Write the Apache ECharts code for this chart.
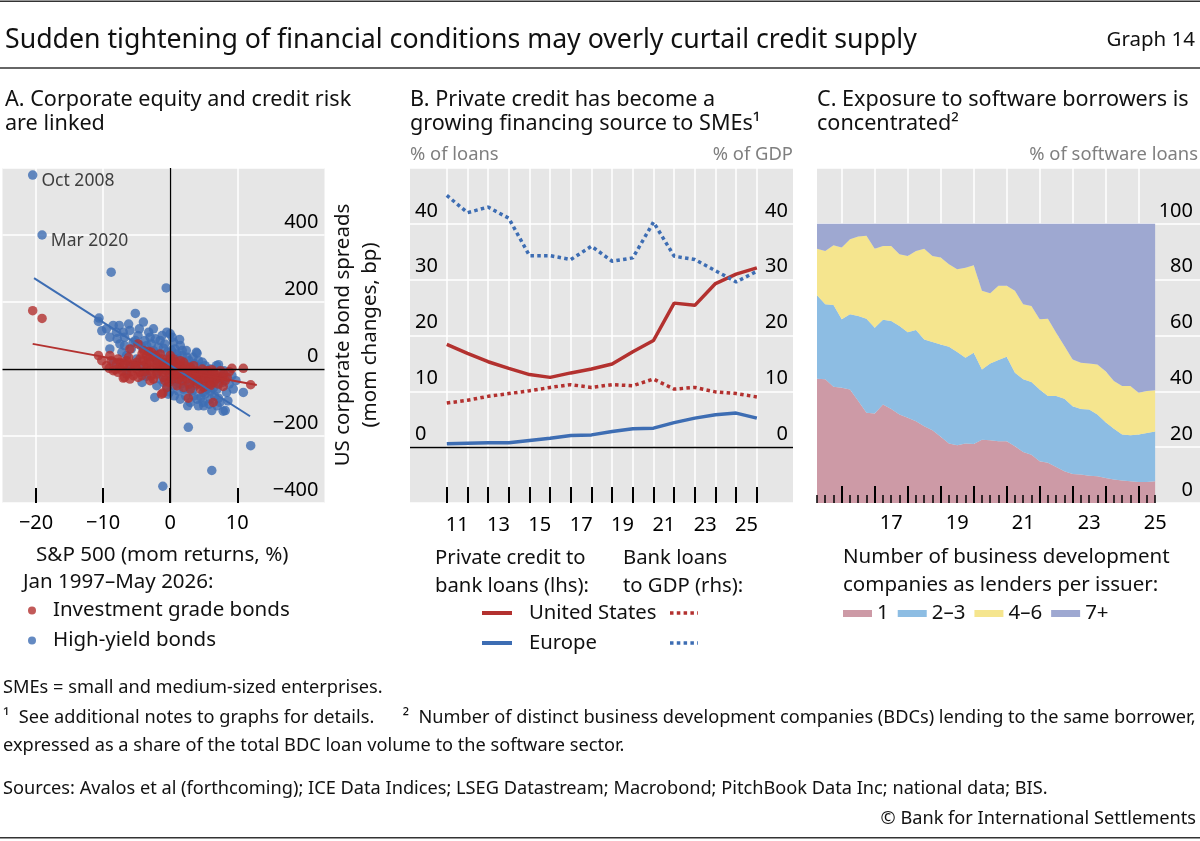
<!DOCTYPE html>
<html>
<head>
<meta charset="utf-8">
<script src="https://cdn.jsdelivr.net/npm/echarts@6/dist/echarts.min.js"></script>
<style>
html, body { margin: 0; padding: 0; background: #fff; }
#chart { width: 1200px; height: 841px; }
</style>
</head>
<body>
<div id="chart"></div>
<script>
// ---- Panel A: monthly S&P 500 returns (%) vs spread changes (bp)
var hyLabelled = [['Oct 2008', -20.5, 579], ['Mar 2020', -19.1, 400]];
var hyPoints = [
  [-8.8,289],[-0.6,242],[-5.2,166],[-10.6,152],[-10.7,142],[-10.2,114],[-7.9,90],[-6.2,134],[-7.0,110],
  [-4.8,100],[-3.0,95],[-1.5,85],[0.5,80],[1.5,70],[1.4,88],[3.9,50],[-7.2,50],[-3.5,70],[-5.5,80],
  [-4.0,60],[-2.5,55],[-1.0,62],[0.2,55],[1.0,45],[2.5,35],[-6.5,40],[-5.0,30],[-3.0,38],[-2.0,25],
  [-0.5,30],[0.5,20],[2.0,15],[3.0,10],[4.5,5],[6.0,0],[6.9,10],[7.2,13],[-6.0,10],[-4.5,5],[-3.5,-20],
  [-2.0,-10],[-1.0,0],[0.0,-5],[1.0,-15],[2.0,-20],[3.7,-20],[4.5,-30],[5.5,-25],[6.5,-35],[7.5,-30],
  [9.2,-20],[8.0,-5],[-2.0,-50],[-2.3,-85],[-0.3,-75],[-0.1,-68],[1.0,-40],[2.0,-60],[2.9,-55],[3.5,-80],
  [4.9,-70],[4.9,-100],[6.2,-124],[8.2,-124],[8.4,-70],[10.9,-70],[7.2,-87],[7.9,-126],[2.7,-174],
  [12.0,-229],[6.2,-303],[-1.1,-350],[5.5,-60],[6.5,-55],[3.0,-45],[-3.6,-22],[4.0,47],[-9.0,60],
  [-8.5,20],[-1.5,-30],[0.5,-50],[1.5,-90],[3.0,-100],[5.0,-110],[4.0,-90],[-6.5,-5],[0.8,35],[-1.8,45],
  [2.2,-35],[6.0,-90],[7.0,-60],[8.8,-45],[-4.2,-40],[1.8,55],[-0.8,15],[3.2,-8],[9.8,-35],[5.8,-8],
  [-9.5,120],[-9.0,95],[-8.5,130],[-8.0,110],[-7.5,75],[-6.8,95],[-6.0,115],[-5.8,60],[-5.2,85],
  [-4.6,120],[-4.4,70],[-3.8,85],[-3.2,110],[-2.8,75],[-2.2,90],[-1.8,65],[-1.2,100],[-0.8,75],
  [-0.4,50],[0.3,95],[0.7,60],[1.2,30],[1.8,40],[2.4,55],[2.8,25],[3.4,35],[3.6,15],[4.2,25],[4.8,20],
  [5.2,10],[-1.0,-40],[-0.5,-55],[0.2,-30],[0.6,-80],[1.2,-65],[1.6,-45],[2.3,-80],[2.6,-110],[3.3,-65],
  [3.8,-50],[4.2,-110],[4.6,-85],[5.2,-75],[5.8,-105],[6.6,-80],[7.4,-100],[7.0,-110],[8.6,-95],
  [9.4,-60],[-0.2,-20],[0.8,-25],[1.5,-5],[2.6,-5],[3.6,-30],[5.0,-45],[6.0,-65],[7.8,-40],[-6.8,70],
  [-7.6,130],[-2.5,120],[-4.0,140],[0.0,105],[-0.5,110]
];
var igPoints = [
  [-20.5,174],[-19.1,151],[-10.7,40],[-10.2,25],[-9.0,40],[-9.1,2],[-7.0,-27],[-6.5,-15],[-4.8,75],
  [-6.0,60],[-2.8,50],[-7.5,20],[-1.3,-75],[-1.1,-72],[2.7,-87],[6.4,-100],[7.9,-52],[9.2,2],[10.9,2],
  [12.0,-47],[5.9,-45],[7.2,-25],[1.5,10],[0.0,30],[2.9,0],[4.4,-15],[-1.0,-25],[-6.8,-25],[-3.2,52],
  [-8.0,15],[-7.5,5],[-7.0,10],[-6.5,25],[-6.0,5],[-5.5,15],[-5.0,0],[-5.0,20],[-4.5,30],[-4.5,-10],
  [-4.0,10],[-4.0,25],[-3.5,0],[-3.5,15],[-3.0,-5],[-3.0,20],[-2.5,35],[-2.5,5],[-2.0,-15],[-2.0,10],
  [-2.0,25],[-1.5,0],[-1.5,15],[-1.0,-10],[-1.0,5],[-1.0,20],[-0.5,-5],[-0.5,10],[0.0,-15],[0.0,0],
  [0.0,15],[0.5,-20],[0.5,-5],[0.5,10],[1.0,-10],[1.0,5],[1.5,-25],[1.5,-5],[2.0,-15],[2.0,0],[2.5,-30],
  [2.5,-10],[3.0,-20],[3.0,5],[3.5,-15],[3.5,-35],[4.0,-5],[4.0,-25],[4.5,-10],[5.0,-20],[5.0,-35],
  [5.5,-5],[5.5,-15],[6.0,-25],[6.5,-10],[6.5,-40],[7.0,-20],[7.5,-5],[8.0,-15],[8.5,-25],[3.0,-60],
  [4.0,-45],[1.0,-50],[-2.5,-30],[-5.5,-20],[-8.5,-5],[-3.5,40],[-1.5,45],[0.5,30],[2.0,20],[-0.2,-40],
  [1.2,-30],[3.8,-8],[6.2,-2],[-7.8,-10],[-4.2,-20],
  [-9.5,10],[-8.8,25],[-8.2,-2],[-7.8,30],[-7.2,-5],[-6.8,15],[-6.2,35],[-5.8,-8],[-5.2,10],[-4.8,-25],
  [-4.2,45],[-3.8,-8],[-3.2,28],[-2.8,-20],[-2.2,40],[-1.8,-5],[-1.2,30],[-0.8,-35],[-0.2,5],[0.2,-30],
  [0.8,20],[1.2,-15],[1.8,-35],[2.2,10],[2.8,-45],[3.2,-10],[3.8,-25],[4.2,-40],[4.8,0],[5.2,-28],
  [5.8,-35],[6.2,-15],[6.8,-30],[7.2,-45],[7.8,-25],[8.2,-35],[5.0,-55],[2.0,-55],[-0.5,-55],[-3.0,-35],
  [-6.0,-30],[0.0,40],[-4.0,55],[1.5,25],[3.5,10],[6.0,-50],[4.5,-60],[8.8,-8]
];
// fitted lines, end points
var hyFit = [[-20.3, 271], [11.9, -141]];
var igFit = [[-20.5, 75], [12.9, -48]];

// ---- Panel B: annual, year-end
var yearsB = [2010,2011,2012,2013,2014,2015,2016,2017,2018,2019,2020,2021,2022,2023,2024,2025];
var usPrivateCredit = [18.4,16.8,15.3,14.1,13.0,12.5,13.3,14.0,14.9,17.1,19.1,25.8,25.4,29.3,31.0,32.1];
var euPrivateCredit = [0.6,0.7,0.8,0.8,1.2,1.6,2.1,2.2,2.8,3.3,3.4,4.4,5.2,5.8,6.1,5.2];
var usBankLoans = [7.9,8.4,9.1,9.6,10.1,10.7,11.2,10.7,11.2,11.0,12.2,10.4,10.7,9.9,9.6,9.0];
var euBankLoans = [45.1,42.0,43.0,41.0,34.3,34.3,33.6,36.0,33.3,33.9,40.3,34.2,33.6,31.6,29.6,31.5];

// ---- Panel C: quarterly, Q2 2015 - Q3 2025, % of software loans
var bdcGroups = ['1', '2–3', '4–6', '7+'];
var share1 = [44.5,44.3,41.6,41.3,40.7,36.5,32.3,32.1,35.3,33.7,31.7,30.5,29.3,27.5,26.1,23.7,21.3,20.7,21.3,21.1,
  22.7,22.5,22.1,22.1,20.3,18.3,17.3,15.0,14.4,12.9,11.4,10.4,10.2,9.8,9.6,9.0,8.4,8.1,7.8,7.5,7.5,7.8];
var share23 = [29.9,26.9,29.3,24.5,26.9,30.5,33.7,30.7,30.3,31.5,31.7,30.7,32.7,31.1,31.6,33.1,34.7,33.4,30.7,32.7,
  25.1,27.5,29.1,30.3,26.4,26.0,26.0,25.7,23.9,25.4,25.9,24.3,23.5,23.7,22.1,19.9,18.2,16.4,16.5,17.0,17.6,17.8];
var share46 = [16.7,19.1,21.4,25.7,26.9,28.5,29.7,28.3,26.5,26.9,25.7,27.3,28.3,32.5,30.8,31.1,29.5,29.6,32.3,31.4,
  28.2,25.1,26.6,25.4,29.3,26.9,27.3,25.1,27.7,22.7,18.9,16.7,16.5,16.5,17.9,18.3,17.1,17.4,17.6,15.0,15.0,14.8];
var share7 = [8.9,9.7,7.7,8.5,5.5,4.5,4.3,8.9,7.9,7.9,10.9,11.5,9.7,8.9,11.5,12.1,14.5,16.3,15.7,14.8,
  24.0,24.9,22.2,22.2,24.0,28.8,29.4,34.2,34.0,39.0,43.8,48.6,49.8,50.0,50.4,52.8,56.3,58.1,58.1,60.5,59.9,59.6];
var quartersC = [];
for (var q = 0; q < share1.length; q++) quartersC.push(2015.25 + q * 0.25);

var FONT = "'Noto Sans', sans-serif";
var RED = '#b3312f', BLUE = '#3d6db3', BG = '#e6e6e6', UNIT = '#7f7f7f';
var C_COLORS = ['#cd9aa6', '#8dbde3', '#f5e58e', '#9ea8d1'];

function minus(v) { return String(v).replace('-', '\u2212'); }
function yr(v) { return String(Math.floor(v)).slice(2); }
function txt(x, y, s, size, extra) {
  var st = { text: s, fontSize: size, fontFamily: FONT, fill: '#111', align: 'left', verticalAlign: 'middle' };
  for (var k in (extra || {})) st[k] = extra[k];
  return { type: 'text', x: x, y: y, silent: true, style: st };
}
function rule(y, h, c) {
  return { type: 'rect', silent: true, shape: { x: 0, y: y, width: 1200, height: h }, style: { fill: c } };
}
function legLine(x1, x2, y, color, dotted) {
  return { type: 'line', silent: true, shape: { x1: x1, y1: y, x2: x2, y2: y },
    style: { stroke: color, lineWidth: dotted ? 3.5 : 4, lineDash: dotted ? [3.5, 3.3] : null } };
}

var tickStyle = { color: '#000', width: 2 };
var gridLine = { show: true, lineStyle: { color: '#fff', width: 1.5 } };
function yLabel(extra) {
  var o = { inside: true, margin: 6, verticalAlign: 'bottom', padding: [0, 0, 3, 0], fontSize: 20, fontFamily: FONT, color: '#000' };
  for (var k in extra) o[k] = extra[k];
  return o;
}

var yearTicks = [];
for (var y = 2011; y <= 2026; y++) yearTicks.push(y);
var yearLabelsB = [];
for (var y2 = 2011; y2 <= 2025; y2 += 2) yearLabelsB.push(y2 + 0.5);
var majorC = [];
for (var y3 = 2016; y3 <= 2025; y3++) majorC.push(y3);
var labelsC = [2017.5, 2019.5, 2021.5, 2023.5, 2025.5];

var hyData = hyLabelled.map(function (p) {
  return { value: [p[1], p[2]], label: { show: true, formatter: p[0], position: 'right', distance: 4,
    offset: [0, 6], fontSize: 17.5, fontFamily: FONT, color: '#111' } };
}).concat(hyPoints);

var myChart = echarts.init(document.getElementById('chart'));

option = {
  animation: false,
  backgroundColor: '#fff',
  textStyle: { fontFamily: FONT },
  grid: [
    { left: 2.5, top: 168, width: 322, height: 335, show: true, backgroundColor: BG, borderWidth: 0 },
    { left: 410, top: 168, width: 383, height: 335, show: true, backgroundColor: BG, borderWidth: 0 },
    { left: 817, top: 168, width: 383, height: 335, show: true, backgroundColor: BG, borderWidth: 0 }
  ],
  xAxis: [
    { gridIndex: 0, type: 'value', min: -25, max: 23, position: 'bottom',
      axisLine: { show: false, onZero: false },
      axisTick: { inside: true, length: 15, lineStyle: tickStyle, customValues: [-20, -10, 0, 10] },
      axisLabel: { customValues: [-20, -10, 0, 10], formatter: minus, margin: 10, fontSize: 20, fontFamily: FONT, color: '#000' },
      splitLine: gridLine },
    { gridIndex: 1, type: 'value', min: 2009.22, max: 2027.75, position: 'bottom',
      axisLine: { show: false, onZero: false },
      axisTick: { inside: true, length: 16, lineStyle: tickStyle, customValues: yearTicks },
      axisLabel: { customValues: yearLabelsB, formatter: yr, margin: 12, fontSize: 20, fontFamily: FONT, color: '#000' },
      splitLine: gridLine },
    { gridIndex: 2, type: 'value', min: 2015.25, max: 2026.86, position: 'bottom',
      axisLine: { show: false, onZero: false },
      axisTick: { show: false, customValues: majorC },
      axisLabel: { customValues: labelsC, formatter: yr, margin: 10, fontSize: 20, fontFamily: FONT, color: '#000' },
      splitLine: gridLine },
    { gridIndex: 2, type: 'value', min: 2015.25, max: 2026.86, position: 'bottom', z: 5,
      axisLine: { show: false, onZero: false },
      axisTick: { inside: true, length: 17, lineStyle: tickStyle, customValues: majorC },
      axisLabel: { show: false }, splitLine: { show: false } },
    { gridIndex: 2, type: 'value', min: 2015.25, max: 2026.86, position: 'bottom', z: 5,
      axisLine: { show: false, onZero: false },
      axisTick: { inside: true, length: 8, lineStyle: { color: '#000', width: 1.5 }, customValues: quartersC },
      axisLabel: { show: false }, splitLine: { show: false } }
  ],
  yAxis: [
    { gridIndex: 0, type: 'value', min: -400, max: 600, interval: 200, position: 'right',
      axisLine: { show: false, onZero: false }, axisTick: { show: false },
      axisLabel: yLabel({ formatter: function (v) { return v === 600 ? '' : minus(v); } }),
      splitLine: gridLine },
    { gridIndex: 1, type: 'value', min: -10, max: 50, interval: 10, position: 'left',
      axisLine: { show: false, onZero: false }, axisTick: { show: false },
      axisLabel: yLabel({ margin: 5, formatter: function (v) { return (v < 0 || v > 40) ? '' : v; } }),
      splitLine: gridLine },
    { gridIndex: 1, type: 'value', min: -10, max: 50, interval: 10, position: 'right',
      axisLine: { show: false, onZero: false }, axisTick: { show: false },
      axisLabel: yLabel({ margin: 5, formatter: function (v) { return (v < 0 || v > 40) ? '' : v; } }),
      splitLine: { show: false } },
    { gridIndex: 2, type: 'value', min: 0, max: 120, interval: 20, position: 'right',
      axisLine: { show: false, onZero: false }, axisTick: { show: false },
      axisLabel: yLabel({ margin: 7, formatter: function (v) { return v > 100 ? '' : v; } }),
      splitLine: gridLine }
  ],
  legend: [
    { data: ['Investment grade bonds', 'High-yield bonds'], orient: 'vertical', left: 28, top: 600,
      itemWidth: 8, itemHeight: 8, itemGap: 9, icon: 'circle', selectedMode: false, padding: 0,
      textStyle: { fontSize: 20.5, fontFamily: FONT, color: '#111', padding: [0, 0, 0, 12] } },
    { data: bdcGroups, orient: 'horizontal', left: 843, top: 603, itemWidth: 29, itemHeight: 7, itemGap: 9,
      icon: 'rect', selectedMode: false, padding: 0,
      textStyle: { fontSize: 20.5, fontFamily: FONT, color: '#111' } }
  ],
  series: [
    { type: 'scatter', name: 'High-yield bonds', xAxisIndex: 0, yAxisIndex: 0, symbolSize: 9.5,
      itemStyle: { color: BLUE }, data: hyData },
    { type: 'scatter', name: 'Investment grade bonds', xAxisIndex: 0, yAxisIndex: 0, symbolSize: 9.5,
      itemStyle: { color: RED }, data: igPoints },
    { type: 'line', name: 'HY fit', xAxisIndex: 0, yAxisIndex: 0, symbol: 'none', silent: true,
      lineStyle: { color: BLUE, width: 2 }, data: hyFit },
    { type: 'line', name: 'IG fit', xAxisIndex: 0, yAxisIndex: 0, symbol: 'none', silent: true,
      lineStyle: { color: RED, width: 2 }, data: igFit,
      markLine: { silent: true, symbol: 'none', label: { show: false },
        lineStyle: { color: '#000', width: 1.3, type: 'solid' }, data: [{ xAxis: 0 }, { yAxis: 0 }] } },

    { type: 'line', name: 'US private credit', xAxisIndex: 1, yAxisIndex: 1, symbol: 'none',
      lineStyle: { color: RED, width: 3.5 },
      data: yearsB.map(function (y, i) { return [y + 1, usPrivateCredit[i]]; }),
      markLine: { silent: true, symbol: 'none', label: { show: false },
        lineStyle: { color: '#000', width: 1.3, type: 'solid' }, data: [{ yAxis: 0 }] } },
    { type: 'line', name: 'Europe private credit', xAxisIndex: 1, yAxisIndex: 1, symbol: 'none',
      lineStyle: { color: BLUE, width: 3.5 },
      data: yearsB.map(function (y, i) { return [y + 1, euPrivateCredit[i]]; }) },
    { type: 'line', name: 'US bank loans', xAxisIndex: 1, yAxisIndex: 2, symbol: 'none',
      lineStyle: { color: RED, width: 3.5, type: [3.5, 3.3], cap: 'butt' },
      data: yearsB.map(function (y, i) { return [y + 1, usBankLoans[i]]; }) },
    { type: 'line', name: 'Europe bank loans', xAxisIndex: 1, yAxisIndex: 2, symbol: 'none',
      lineStyle: { color: BLUE, width: 3.5, type: [3.5, 3.3], cap: 'butt' },
      data: yearsB.map(function (y, i) { return [y + 1, euBankLoans[i]]; }) }
  ].concat([share1, share23, share46, share7].map(function (arr, k) {
    // value first so that the stack runs on the y dimension
    return { type: 'line', name: bdcGroups[k], xAxisIndex: 2, yAxisIndex: 3, stack: 'bdc', symbol: 'none',
      encode: { x: 1, y: 0 },
      itemStyle: { color: C_COLORS[k] }, lineStyle: { width: 0, color: C_COLORS[k] },
      areaStyle: { color: C_COLORS[k], opacity: 1 },
      data: quartersC.map(function (x, i) { return [arr[i], x]; }) };
  })),
  graphic: [
    rule(0.5, 1.5, '#333'),
    txt(5, 40, 'Sudden tightening of financial conditions may overly curtail credit supply', 26.7),
    txt(1195, 40, 'Graph 14', 20.5, { align: 'right' }),
    rule(67, 2, '#666'),

    txt(5, 100, 'A. Corporate equity and credit risk', 21.6),
    txt(5, 124, 'are linked', 21.6),
    txt(410, 100, 'B. Private credit has become a', 21.6),
    txt(410, 124, 'growing financing source to SMEs\u00b9', 21.6),
    txt(817, 100, 'C. Exposure to software borrowers is', 21.6),
    txt(817, 124, 'concentrated\u00b2', 21.6),

    txt(410, 155, '% of loans', 18.4, { fill: UNIT }),
    txt(793, 155, '% of GDP', 18.4, { fill: UNIT, align: 'right' }),
    txt(1198, 155, '% of software loans', 18.4, { fill: UNIT, align: 'right' }),

    { type: 'text', x: 356.5, y: 335, rotation: Math.PI / 2, silent: true,
      style: { text: 'US corporate bond spreads\n(mom changes, bp)', fontSize: 20.5, fontFamily: FONT, fill: '#111',
        align: 'center', verticalAlign: 'middle', lineHeight: 27 } },
    txt(36, 555, 'S&P 500 (mom returns, %)', 20.6),
    txt(23, 582, 'Jan 1997–May 2026:', 20.5),

    txt(435, 558, 'Private credit to', 20.3),
    txt(435, 586, 'bank loans (lhs):', 20.3),
    txt(623, 558, 'Bank loans', 20.3),
    txt(623, 586, 'to GDP (rhs):', 20.3),
    legLine(482, 512, 613, RED, false),
    txt(529, 613, 'United States', 20.3),
    legLine(670, 698, 613, RED, true),
    legLine(482, 512, 643, BLUE, false),
    txt(529, 643, 'Europe', 20.3),
    legLine(670, 698, 643, BLUE, true),

    txt(843, 557, 'Number of business development', 20.5),
    txt(843, 585, 'companies as lenders per issuer:', 20.5),

    txt(3, 688, 'SMEs = small and medium-sized enterprises.', 18.2),
    txt(3, 718, '\u00b9  See additional notes to graphs for details.      \u00b2  Number of distinct business development companies (BDCs) lending to the same borrower,', 18.2),
    txt(3, 746, 'expressed as a share of the total BDC loan volume to the software sector.', 18.2),
    txt(3, 789, 'Sources: Avalos et al (forthcoming); ICE Data Indices; LSEG Datastream; Macrobond; PitchBook Data Inc; national data; BIS.', 18.2),
    txt(1196, 819, '\u00a9 Bank for International Settlements', 18.2, { align: 'right' }),
    rule(837, 1.5, '#333')
  ]
};

myChart.setOption(option);
</script>
</body>
</html>
